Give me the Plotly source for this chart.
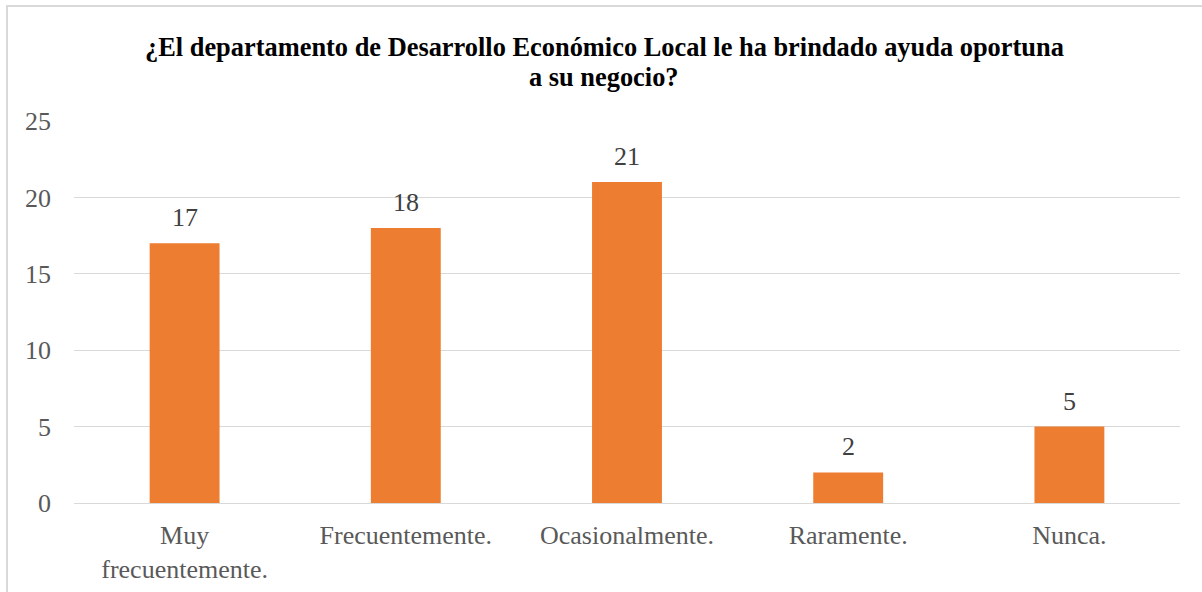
import plotly.graph_objects as go

categories = ["Muy<br>frecuentemente.", "Frecuentemente.", "Ocasionalmente.", "Raramente.", "Nunca."]
values = [17, 18, 21, 2, 5]
y_ticks = [0, 5, 10, 15, 20, 25]
title_lines = ["¿El departamento de Desarrollo Económico Local le ha brindado ayuda oportuna",
               "a su negocio?"]

W, H = 1202, 592
L, R, T, B = 74, 22, 121, 89
pw, ph = W - L - R, H - T - B

def px_x(p):
    return (p - L) / pw

def px_y(p):
    return (H - B - p) / ph

FS = 26
fig = go.Figure()
fig.add_trace(go.Bar(
    x=categories, y=values,
    marker=dict(color="#ED7D31", line=dict(width=0)),
    cliponaxis=False,
))

annotations = []
for i, line in enumerate(title_lines):
    annotations.append(dict(
        text="<b>" + line + "</b>", showarrow=False,
        xref="paper", yref="paper", x=px_x(604), y=px_y(47 + 30 * i),
        xanchor="center", yanchor="middle",
        font=dict(family="Liberation Serif", size=26.4, color="#000000"),
    ))
for c, v in zip(categories, values):
    annotations.append(dict(
        text=str(v), showarrow=False, xref="x", yref="y", x=c, y=v,
        xanchor="center", yanchor="bottom", yshift=9,
        font=dict(family="Liberation Serif", size=FS, color="#404040"),
    ))

fig.update_layout(
    width=W, height=H,
    margin=dict(l=L, r=R, t=T, b=B, autoexpand=False),
    paper_bgcolor="white", plot_bgcolor="white",
    bargap=0.684,
    showlegend=False,
    annotations=annotations,
    font=dict(family="Liberation Serif", size=FS, color="#595959"),
    xaxis=dict(
        showgrid=False, showline=False, zeroline=False, ticks="",
        tickfont=dict(family="Liberation Serif", size=FS, color="#595959"),
        ticklabelstandoff=14, automargin=False,
    ),
    yaxis=dict(
        range=[0, 25], tickvals=y_ticks, showgrid=True, gridcolor="#D9D9D9", gridwidth=1,
        zeroline=True, zerolinecolor="#D9D9D9", zerolinewidth=1,
        showline=False, ticks="", automargin=False,
        tickfont=dict(family="Liberation Serif", size=FS, color="#595959"),
        ticklabelstandoff=22,
    ),
    shapes=[dict(
        type="rect", xref="paper", yref="paper",
        x0=px_x(7), x1=px_x(1215), y0=px_y(605), y1=px_y(6),
        line=dict(color="#D9D9D9", width=2), fillcolor="rgba(0,0,0,0)", layer="below",
    )],
)

fig.write_html("out.html")
